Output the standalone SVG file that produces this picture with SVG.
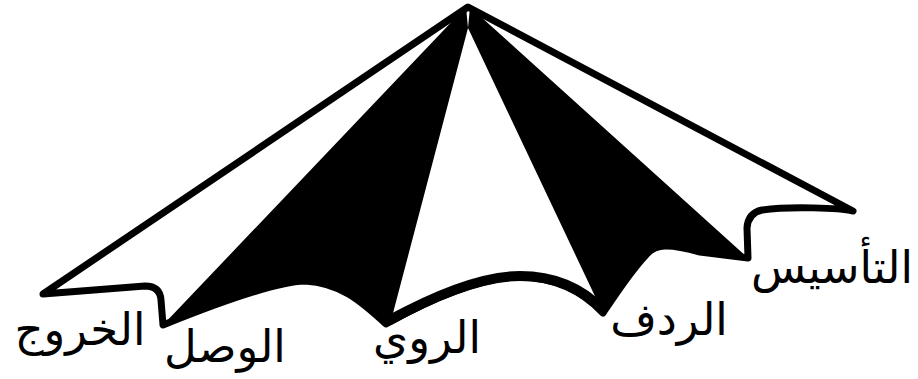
<svg xmlns="http://www.w3.org/2000/svg" width="918" height="379" viewBox="0 0 918 379">
<style>
.lbl{font-family:"DejaVu Sans",sans-serif;font-size:45px;fill:#000;text-anchor:middle}
.blk{fill:#000;stroke:none}
</style>
<rect width="918" height="379" fill="#fff"/>
<g id="outline">
<path d="M 468,7 L 853,211 C 840,208 790,206 762,210 Q 748,213 747,228 L 748,258 L 700,252 C 670,244 655,243 645,256 C 630,272 615,295 603,313 Q 570,278 520,277 Q 470,277 386,324 C 360,300 340,283 305,281 C 270,282 200,310 163,325 L 161,300 Q 160,286 145,286 L 43,294 Z" fill="#fff" stroke="#000" stroke-width="7" stroke-linejoin="round"/>
<path d="M 603,310 Q 570,276 520,276 Q 470,276 388,321" fill="none" stroke="#000" stroke-width="10"/>
</g>
<g id="left-black">
<path class="blk" d="M 466,7 L 468,28 L 392,317 L 386,324 C 360,300 340,283 305,281 C 270,282 200,310 163,325 L 461,12 Z"/>
</g>
<g id="right-black">
<path class="blk" d="M 470,7 L 748,258 L 700,252 C 670,244 655,243 645,256 C 630,272 615,295 603,313 L 593,292 L 468,28 Z"/>
</g>
<g id="labels">
<text class="lbl" x="80" y="345">الخروج</text>
<text class="lbl" x="225" y="362">الوصل</text>
<text class="lbl" x="427" y="353">الروي</text>
<text class="lbl" x="669" y="335">الردف</text>
<text class="lbl" x="832" y="283">التأسيس</text>
</g>
</svg>
